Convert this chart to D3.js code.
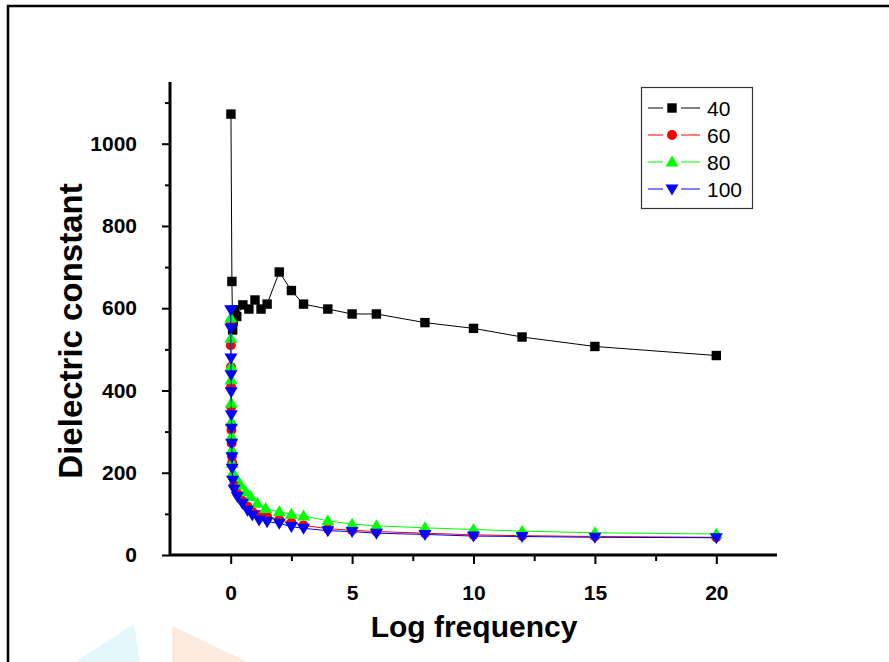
<!DOCTYPE html>
<html><head><meta charset="utf-8">
<script src="https://cdn.jsdelivr.net/npm/d3@7"></script>
<style>body{margin:0;background:#fff}svg{display:block}</style>
</head><body>
<svg id="c" width="889" height="662"></svg>
<script>
// ---- data ----
const seriesNames = ["40", "60", "80", "100"];
const seriesColors = ["#000000", "#ff0000", "#00ff00", "#0000ff"];
const seriesShapes = ["square", "circle", "triangleUp", "triangleDown"];

const x40 = [0.01, 0.05, 0.08, 0.1, 0.15, 0.25, 0.5, 0.75, 1, 1.25, 1.5, 2, 2.5, 3, 4, 5, 6, 8, 10, 12, 15, 20];
const y40 = [1072, 665, 547, 568, 596, 580, 608, 598, 620, 598, 610, 688, 643, 610, 598, 586, 586, 565, 551, 530, 507, 485];

const x60 = [0, 0.005, 0.01, 0.015, 0.02, 0.03, 0.04, 0.05, 0.06, 0.08, 0.14, 0.27, 0.48, 0.69, 0.89, 1.17, 1.5, 2, 2.5, 3, 4, 5, 6, 8, 10, 12, 15, 20];
const y60 = [560, 510, 457, 409, 360, 304, 272, 240, 224, 190, 170, 150, 132, 118, 105, 97, 93, 86, 79, 72, 64, 60, 57, 53, 49, 47, 45, 43];

const x80 = [0, 0.005, 0.01, 0.015, 0.02, 0.03, 0.04, 0.05, 0.06, 0.08, 0.2, 0.41, 0.62, 0.82, 1.1, 1.44, 2, 2.5, 3, 4, 5, 6, 8, 10, 12, 15, 20];
const y80 = [576, 527, 458, 426, 369, 324, 288, 255, 223, 199, 190, 170, 154, 142, 126, 113, 105, 99, 95, 83, 75, 71, 66, 62, 58, 54, 51];

const x100 = [0, 0.005, 0.01, 0.015, 0.02, 0.025, 0.03, 0.04, 0.05, 0.06, 0.08, 0.14, 0.27, 0.48, 0.69, 0.89, 1.17, 1.5, 2, 2.5, 3, 4, 5, 6, 8, 10, 12, 15, 20];
const y100 = [596, 552, 479, 438, 397, 341, 308, 272, 239, 211, 182, 160, 142, 126, 109, 97, 85, 81, 77, 69, 65, 59, 57, 53, 50, 46, 45, 43, 42];

const xMajorTicks = [0, 5, 10, 15, 20];
const xMinorTicks = [2.5, 7.5, 12.5, 17.5];
const yMajorTicks = [0, 200, 400, 600, 800, 1000];
const yMinorTicks = [100, 300, 500, 700, 900, 1100];

const xTitle = "Log frequency";
const yTitle = "Dielectric constant";

// ---- drawing ----
const svg = d3.select("#c");
const font = "'Liberation Sans', Arial, sans-serif";

// outer frame
svg.append("path").attr("d", "M8,662 V6 H889").attr("fill", "none").attr("stroke", "#000").attr("stroke-width", 2.5);

// faint watermark shapes
svg.append("path").attr("d", "M75,662 L134,624 L140,662 Z").attr("fill", "#d8f3f8").attr("opacity", 0.7);
svg.append("path").attr("d", "M172,662 L172,626 L248,662 Z").attr("fill", "#fbe3cf").attr("opacity", 0.7);

const x = d3.scaleLinear().domain([-2.5, 22.5]).range([170, 777]);
const y = d3.scaleLinear().domain([0, 1150]).range([555, 82]);

// axes
const gx = svg.append("g").attr("transform", "translate(0,555)");
gx.call(d3.axisBottom(x).tickValues(xMinorTicks).tickSize(6).tickFormat(""));
gx.call(g => g.select(".domain").remove());
gx.append("g").call(d3.axisBottom(x).tickValues(xMajorTicks).tickSize(9).tickPadding(21).tickFormat(d3.format("d")));
gx.selectAll("line").attr("stroke", "#000").attr("stroke-width", 2);
gx.selectAll(".domain").remove();
gx.selectAll("text").attr("font-family", font).attr("font-weight", "bold").attr("font-size", 21).attr("fill", "#000");
svg.append("line").attr("x1", x(-2.5)).attr("x2", x(22.5)).attr("y1", 555).attr("y2", 555).attr("stroke", "#000").attr("stroke-width", 3);

const gy = svg.append("g").attr("transform", "translate(170,0)");
gy.call(d3.axisLeft(y).tickValues(yMinorTicks).tickSize(5).tickFormat(""));
gy.select(".domain").remove();
gy.append("g").call(d3.axisLeft(y).tickValues(yMajorTicks).tickSize(8).tickPadding(25).tickFormat(d3.format("d")));
gy.selectAll(".domain").remove();
gy.selectAll("line").attr("stroke", "#000").attr("stroke-width", 2);
gy.selectAll("text").attr("font-family", font).attr("font-weight", "bold").attr("font-size", 21).attr("fill", "#000");
svg.append("line").attr("x1", 170).attr("x2", 170).attr("y1", 556).attr("y2", y(1150)).attr("stroke", "#000").attr("stroke-width", 3);

// titles
svg.append("text").attr("x", 474).attr("y", 637).attr("text-anchor", "middle")
  .attr("font-family", font).attr("font-weight", "bold").attr("font-size", 30).text(xTitle);
svg.append("text").attr("transform", "translate(82,331) rotate(-90)").attr("text-anchor", "middle")
  .attr("font-family", font).attr("font-weight", "bold").attr("font-size", 33).text(yTitle);

// markers
function marker(g, shape, color, cx, cy) {
  if (shape === "square") {
    g.append("rect").attr("x", cx - 4.7).attr("y", cy - 4.7).attr("width", 9.4).attr("height", 9.4).attr("fill", color);
  } else if (shape === "circle") {
    g.append("circle").attr("cx", cx).attr("cy", cy).attr("r", 5).attr("fill", color);
  } else if (shape === "triangleUp") {
    g.append("path").attr("d", `M${cx},${cy - 6.5} L${cx + 6.5},${cy + 4.5} L${cx - 6.5},${cy + 4.5} Z`).attr("fill", color);
  } else {
    g.append("path").attr("d", `M${cx},${cy + 6.5} L${cx + 6.5},${cy - 4.5} L${cx - 6.5},${cy - 4.5} Z`).attr("fill", color);
  }
}

const allX = [x40, x60, x80, x100];
const allY = [y40, y60, y80, y100];
const line = d3.line().x(d => x(d[0])).y(d => y(d[1]));
seriesNames.forEach((name, i) => {
  const pts = allX[i].map((v, j) => [v, allY[i][j]]);
  const g = svg.append("g");
  g.append("path").datum(pts).attr("d", line).attr("fill", "none").attr("stroke", seriesColors[i]).attr("stroke-width", 1);
  pts.forEach(p => marker(g, seriesShapes[i], seriesColors[i], x(p[0]), y(p[1])));
});

// legend
const lg = svg.append("g");
lg.append("rect").attr("x", 641.5).attr("y", 87.5).attr("width", 111).attr("height", 121)
  .attr("fill", "#fff").attr("stroke", "#333").attr("stroke-width", 1.2);
seriesNames.forEach((name, i) => {
  const ly = 108 + i * 27;
  lg.append("line").attr("x1", 648).attr("x2", 700).attr("y1", ly).attr("y2", ly).attr("stroke", seriesColors[i]).attr("stroke-width", 1);
  lg.append("rect").attr("x", 663).attr("y", ly - 7).attr("width", 18).attr("height", 14).attr("fill", "#fff");
  marker(lg, seriesShapes[i], seriesColors[i], 672, ly);
  lg.append("text").attr("x", 707).attr("y", ly + 7.5).attr("font-family", font).attr("font-size", 21).attr("fill", "#000").text(name);
});
</script>
</body></html>
